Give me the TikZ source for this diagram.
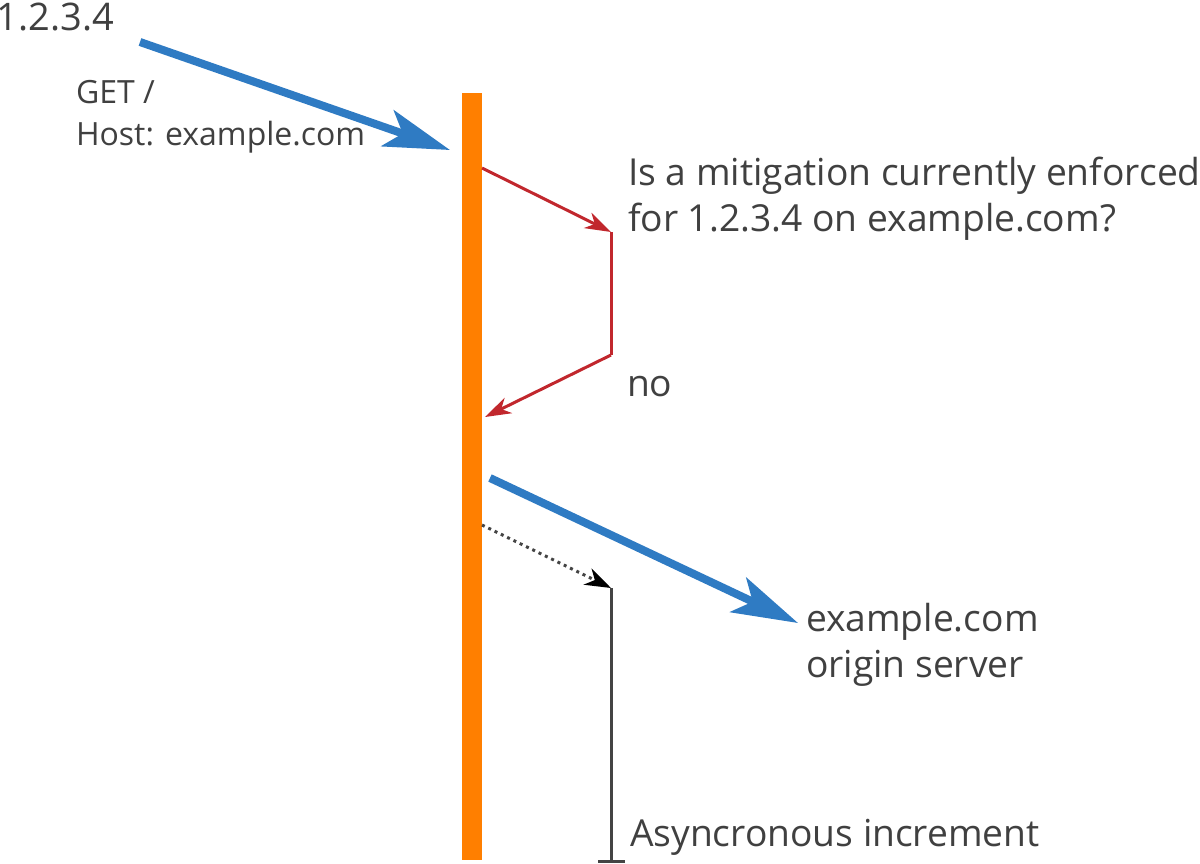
\documentclass[tikz,border=0pt]{standalone}
\usepackage{fontspec}
\setmainfont{Open Sans}
\usetikzlibrary{arrows.meta}
\definecolor{barorange}{HTML}{FF7F00}
\definecolor{flowblue}{HTML}{2F7BC3}
\definecolor{checkred}{HTML}{C1272D}
\definecolor{txtgray}{HTML}{404040}
\definecolor{linegray}{HTML}{444444}
\tikzset{
  lbl/.style={inner sep=0pt, outer sep=0pt, text=txtgray, anchor=base west, align=left},
  bigtxt/.style={font=\fontsize{37.2}{45.5}\selectfont},
  flow/.style={draw=flowblue, line width=8pt, -{Stealth[length=66pt,width=38pt,inset=16pt]}},
  check/.style={draw=checkred, line width=3pt, line join=miter, -{Stealth[length=26pt,width=17pt,inset=8pt]}},
  asyncdot/.style={draw=linegray, line width=3pt, dash pattern=on 3pt off 4pt, -{Stealth[length=26pt,width=18pt,inset=8pt,color=black]}},
  asyncline/.style={draw=linegray, line width=3pt},
  barbox/.style={fill=barorange, draw=none, minimum width=20pt, minimum height=767pt, inner sep=0pt, outer sep=0pt}
}
\begin{document}
\begin{tikzpicture}[x=1pt,y=-1pt]
\useasboundingbox (0,0) rectangle (1200,863);
% edge bar
\node[barbox] (bar) at (472,476.5) {};
% labels
\node[lbl, font=\fontsize{38}{45}\selectfont] (client) at (-3,30) {1.2.3.4};
\node[lbl, font=\fontsize{32}{42}\selectfont] (req) at (76,145) {GET /\\Host: example.com};
\node[lbl, bigtxt] (question) at (628,231) {Is a mitigation currently enforced\\for 1.2.3.4 on example.com?};
\node[lbl, bigtxt] (no) at (627,396) {no};
\node[lbl, bigtxt] (origin) at (806,677) {example.com\\origin server};
\node[lbl, bigtxt] (async) at (630,846) {Asyncronous increment};
% coordinates
\coordinate (src) at (140,42);
\coordinate (barin) at (450,150);
\coordinate (qout) at (482,168);
\coordinate (qtop) at (611,232);
\coordinate (qbot) at (611,355);
\coordinate (qback) at (485,417);
\coordinate (fwdout) at (490,478);
\coordinate (fwdin) at (798,623);
\coordinate (aout) at (482,525);
\coordinate (atop) at (611,588);
\coordinate (abot) at (611,861);
\coordinate (tickl) at (598,861);
\coordinate (tickr) at (625,861);
% connectors
\draw[flow] (src) -- (barin);
\draw[check] (qout) -- (qtop);
\draw[checkred, line width=3pt] (qtop) -- (qbot);
\draw[check] (qbot) -- (qback);
\draw[flow] (fwdout) -- (fwdin);
\draw[asyncdot] (aout) -- (atop);
\draw[asyncline] (atop) -- (abot);
\draw[asyncline] (tickl) -- (tickr);
\end{tikzpicture}
\end{document}
